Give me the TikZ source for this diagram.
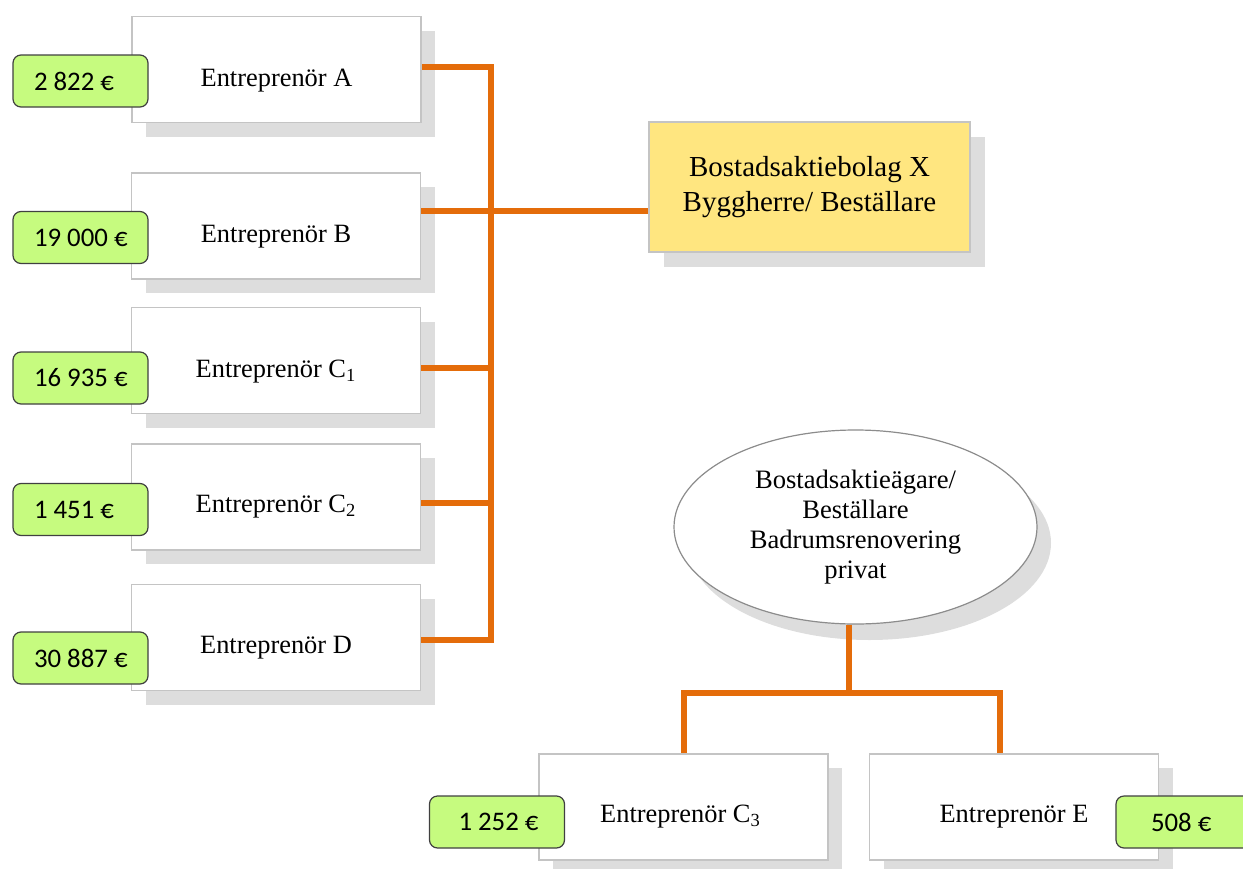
\documentclass[tikz,border=0pt]{standalone}
\usepackage{fontspec}
\setmainfont{Liberation Serif}
\newfontfamily\amtfont{Carlito}
\usetikzlibrary{shapes.geometric,calc}
\definecolor{wireor}{HTML}{E46C0A}
\definecolor{shadowgr}{HTML}{DDDDDD}
\definecolor{boxedge}{HTML}{C4C4C4}
\definecolor{amtgreen}{HTML}{C6FB7F}
\definecolor{yellowbox}{HTML}{FFE680}
\newcommand\amttext[1]{\makebox[46.5pt][l]{#1}}
\tikzset{
  entbox/.style={draw=boxedge, line width=0.8pt, fill=white, minimum width=144.5pt, minimum height=53pt, inner sep=0pt},
  enttext/.style={inner sep=0pt, font=\fontsize{13.2pt}{15pt}\selectfont},
  shadowbox/.style={fill=shadowgr, draw=none, minimum width=144.5pt, minimum height=53pt, inner sep=0pt},
  amtbox/.style={draw=black!75, line width=0.6pt, fill=amtgreen, rounded corners=4pt, minimum width=67.5pt, minimum height=26pt, inner ysep=0pt, inner xsep=10.5pt, font=\amtfont\fontsize{13.4pt}{15pt}\selectfont},
  wire/.style={draw=wireor, line width=3pt},
}
\begin{document}
\begin{tikzpicture}[x=0.5pt,y=-0.5pt]
\useasboundingbox (0,0) rectangle (1243,868);
% shadows
\foreach \cx/\cy in {276.5/69.5, 276/226, 276/360.5, 276/497, 276/637.5, 683.5/807, 1014/807}{
  \node[shadowbox] at (\cx+14,\cy+14) {};
}
\node[fill=shadowgr, minimum width=160.5pt, minimum height=65pt, inner sep=0pt] at (809.5+15,187+15) {};
\node[ellipse, fill=shadowgr, minimum width=181.5pt, minimum height=97pt, inner sep=0pt] at (855.5+14,527+16) {};
% boxes
\node[entbox] (A) at (276.5,69.5) {};
\node[entbox] (B) at (276,226) {};
\node[entbox] (C1) at (276,360.5) {};
\node[entbox] (C2) at (276,497) {};
\node[entbox] (D) at (276,637.5) {};
\node[entbox] (C3) at (683.5,807) {};
\node[entbox] (E) at (1014,807) {};
\node[enttext] (tA) at ([yshift=-5.5pt]A.center) {Entreprenör A};
\node[enttext] (tB) at ([yshift=-5.5pt]B.center) {Entreprenör B};
\node[enttext] (tC1) at ([yshift=-5.5pt]C1.center) {Entreprenör C\textsubscript{1}};
\node[enttext] (tC2) at ([yshift=-5pt]C2.center) {Entreprenör C\textsubscript{2}};
\node[enttext] (tD) at ([yshift=-5pt]D.center) {Entreprenör D};
\node[enttext] (tC3) at ([yshift=-5pt,xshift=-1.5pt]C3.center) {Entreprenör C\textsubscript{3}};
\node[enttext] (tE) at ([yshift=-5pt]E.center) {Entreprenör E};
\node[draw=boxedge, line width=0.8pt, fill=yellowbox, minimum width=160.5pt, minimum height=65pt, inner sep=0pt, align=center, font=\fontsize{14.5pt}{17.5pt}\selectfont] (Y) at (809.5,187) {Bostadsaktiebolag X\\Byggherre/ Beställare};
\node[ellipse, draw=black!45, line width=0.6pt, fill=white, minimum width=181.5pt, minimum height=97pt, inner sep=0pt, align=center, font=\fontsize{13.3pt}{15pt}\selectfont] (O) at (855.5,527) {Bostadsaktieägare/\\Beställare\\Badrumsrenovering\\privat};
% amounts
\node[amtbox] (mA) at (80.5,81) {\amttext{2 822 €}};
\node[amtbox] (mB) at (80.5,237.5) {\amttext{19 000 €}};
\node[amtbox] (mC1) at (80.5,378) {\amttext{16 935 €}};
\node[amtbox] (mC2) at (80.5,509.5) {\amttext{1 451 €}};
\node[amtbox] (mD) at (80.5,658) {\amttext{30 887 €}};
\node[amtbox] (mC3) at (497,822) {\amttext{\hspace{4pt}1 252 €}};
\node[amtbox] (mE) at (1183.5,822) {\amttext{\hspace{7pt}508 €}};
% wires
\coordinate (bus) at (491,0);
\coordinate (hb) at (0,693);
\draw[wire] ([yshift=1.25pt]A.east) -- ([yshift=1.25pt]A.east -| bus) -- ([yshift=-1.25pt]D.east -| bus) -- ([yshift=-1.25pt]D.east);
\draw[wire] ([yshift=7.5pt]B.east) -- ([yshift=7.5pt]B.east -| Y.west);
\draw[wire] ([yshift=-3.75pt]C1.east) -- ([yshift=-3.75pt]C1.east -| bus);
\draw[wire] ([yshift=-3pt]C2.east) -- ([yshift=-3pt]C2.east -| bus);
\draw[wire] ([xshift=-3.25pt]O.south) -- ([xshift=-3.25pt]O.south |- hb);
\draw[wire] (C3.north) -- (C3.north |- hb) -- ([xshift=-7pt]E.north |- hb) -- ([xshift=-7pt]E.north);
\end{tikzpicture}
\end{document}
